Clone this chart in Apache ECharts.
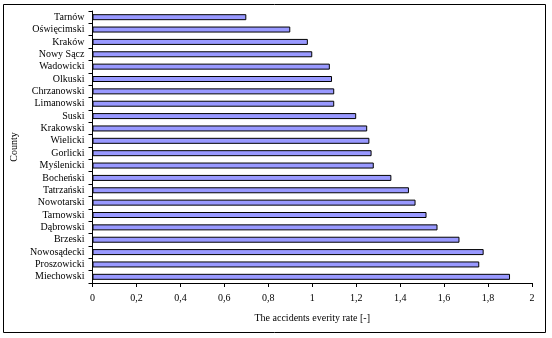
<!DOCTYPE html>
<html>
<head>
<meta charset="utf-8">
<script src="https://cdn.jsdelivr.net/npm/echarts@6/dist/echarts.min.js"></script>
<style>
html,body{margin:0;padding:0;background:#fff;}
#chart{width:552px;height:338px;}
</style>
</head>
<body>
<div id="chart"></div>
<script>
const counties = ["Tarnów","Oświęcimski","Kraków","Nowy Sącz","Wadowicki","Olkuski","Chrzanowski","Limanowski","Suski","Krakowski","Wielicki","Gorlicki","Myślenicki","Bocheński","Tatrzański","Nowotarski","Tarnowski","Dąbrowski","Brzeski","Nowosądecki","Proszowicki","Miechowski"];
const severityRate = [0.70,0.90,0.98,1.00,1.08,1.09,1.10,1.10,1.20,1.25,1.26,1.27,1.28,1.36,1.44,1.47,1.52,1.57,1.67,1.78,1.76,1.90];
const xTicks = [0,0.2,0.4,0.6,0.8,1,1.2,1.4,1.6,1.8,2];

const chart = echarts.init(document.getElementById('chart'), null, {renderer:'canvas'});
const font = "'Liberation Serif','Times New Roman',serif";
chart.setOption({
  animation:false,
  backgroundColor:'#fff',
  graphic:[{type:'rect',shape:{x:3.5,y:4.5,width:542,height:328},style:{fill:'none',stroke:'#000',lineWidth:1},z:-1}],
  grid:{left:92.5,right:20,top:11,bottom:55},
  xAxis:{
    type:'value',min:0,max:2,interval:0.2,
    name:'The accidents everity rate [-]',nameLocation:'middle',nameGap:30,
    nameTextStyle:{fontFamily:font,fontSize:10,color:'#000'},
    axisLine:{show:true,lineStyle:{color:'#000',width:1}},
    axisTick:{show:true,length:4,lineStyle:{color:'#000'}},
    axisLabel:{fontFamily:font,fontSize:10,color:'#000',margin:10,
      formatter:function(v){const r=xTicks.find(t=>Math.abs(t-v)<1e-9);return String(r!==undefined?r:v).replace('.',',');}},
    splitLine:{show:false}
  },
  yAxis:{
    type:'category',data:counties,inverse:true,
    name:'County',nameLocation:'middle',nameGap:64,nameRotate:90,
    nameTextStyle:{fontFamily:font,fontSize:10,color:'#000'},
    axisLine:{show:true,lineStyle:{color:'#000',width:1}},
    axisTick:{show:true,length:4,inside:false,lineStyle:{color:'#000'}},
    axisLabel:{fontFamily:font,fontSize:10,color:'#000',margin:8,interval:0},
    splitLine:{show:false}
  },
  series:[{
    type:'bar',data:severityRate,barWidth:6,
    itemStyle:{color:'#9999ff',borderColor:'#000',borderWidth:1}
  }]
});
</script>
</body>
</html>
